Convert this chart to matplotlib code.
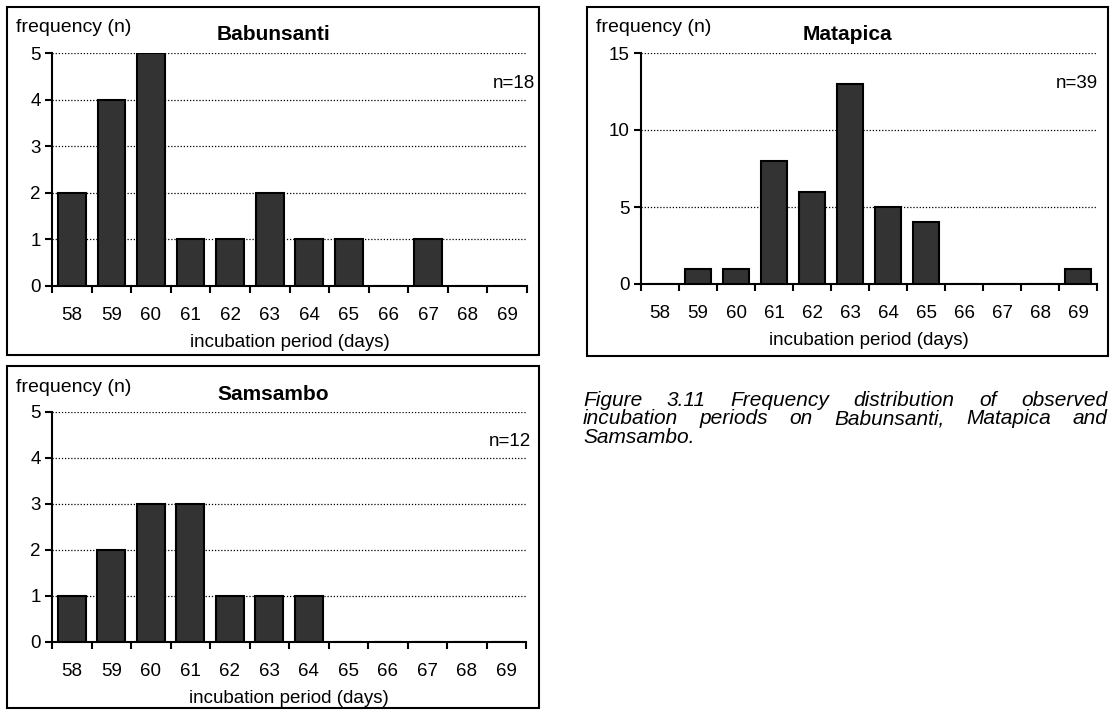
import matplotlib
matplotlib.use("Agg")
import matplotlib.pyplot as plt
import matplotlib.patches as mpatches
import numpy as np

plt.rcParams['font.family'] = ['Liberation Sans', 'DejaVu Sans']

# incubation period (days) and observed frequencies per site
days = [58, 59, 60, 61, 62, 63, 64, 65, 66, 67, 68, 69]
babunsanti = [2, 4, 5, 1, 1, 2, 1, 1, 0, 1, 0, 0]
matapica = [0, 1, 1, 8, 6, 13, 5, 4, 0, 0, 0, 1]
samsambo = [1, 2, 3, 3, 1, 1, 1, 0, 0, 0, 0, 0]
caption_lines = ["Figure 3.11 Frequency distribution of observed",
                 "incubation periods on Babunsanti, Matapica and",
                 "Samsambo."]

W, H = 1112, 710
fig = plt.figure(figsize=(W / 100, H / 100), dpi=100)
FS = 13.5


def px_rect(x0, y0, x1, y1):
    # pixel box (top-left origin) -> figure fraction rect
    return [x0 / W, 1 - y1 / H, (x1 - x0) / W, (y1 - y0) / H]


def panel(box, axbox, counts, title, ymax, ystep, ntext, nx):
    # frame round the panel
    bx0, by0, bx1, by1 = box
    fig.patches.append(mpatches.Rectangle((bx0 / W, 1 - by1 / H), (bx1 - bx0) / W, (by1 - by0) / H,
                                          transform=fig.transFigure, fill=False,
                                          edgecolor='black', linewidth=1.5))
    ax = fig.add_axes(px_rect(*axbox))
    ax.bar(days, counts, width=0.7, color='#333333', edgecolor='black', linewidth=1.5, zorder=3)
    ax.set_xlim(days[0] - 0.5, days[-1] + 0.5)
    ax.set_ylim(0, ymax)
    ax.set_yticks(np.arange(0, ymax + 1, ystep))
    for v in np.arange(ystep, ymax + 1, ystep):
        ax.axhline(v, color='black', linestyle=(0, (1, 1.5)), linewidth=0.9, zorder=1)
    ax.set_xticks(np.arange(days[0] - 0.5, days[-1] + 1, 1))
    ax.set_xticklabels([])
    ax.set_xticks(days, minor=True)
    ax.set_xticklabels([str(d) for d in days], minor=True, fontsize=FS)
    ax.tick_params(axis='x', which='major', direction='out', length=5, width=1.5)
    ax.tick_params(axis='x', which='minor', length=0, pad=15)
    ax.tick_params(axis='y', direction='out', length=5, width=1.5, labelsize=FS, pad=3)
    for s in ['top', 'right']:
        ax.spines[s].set_visible(False)
    for s in ['left', 'bottom']:
        ax.spines[s].set_linewidth(1.5)
    ax.set_xlabel('incubation period (days)', fontsize=FS, labelpad=7)
    # corner texts
    fig.text((bx0 + 9) / W, 1 - (by0 + 21) / H, 'frequency (n)', fontsize=14, va='center', ha='left')
    fig.text((bx0 + bx1) / 2 / W, 1 - (by0 + 28) / H, title, fontsize=15, fontweight='bold',
             va='center', ha='center')
    fig.text(nx / W, 1 - (axbox[3] - 0.87 * (axbox[3] - axbox[1])) / H, ntext, fontsize=FS,
             va='center', ha='right')
    return ax


panel((7, 7, 539, 355), (52, 53, 527, 286), babunsanti, 'Babunsanti', 5, 1, 'n=18', 535)
panel((587, 7, 1108, 356), (641, 53, 1097, 284), matapica, 'Matapica', 15, 5, 'n=39', 1098)
panel((7, 366, 539, 708), (52, 412, 526, 642), samsambo, 'Samsambo', 5, 1, 'n=12', 531)

# justified italic caption
CFS = 15
renderer = fig.canvas.get_renderer()
cx0, cx1 = 583, 1107
cys = [400, 419, 438]
for i, line in enumerate(caption_lines):
    words = line.split()
    texts = [fig.text(0, 1 - cys[i] / H, w, fontsize=CFS, style='italic', va='center', ha='left')
             for w in words]
    widths = [t.get_window_extent(renderer).width for t in texts]
    if i < len(caption_lines) - 1 and len(words) > 1:
        gap = (cx1 - cx0 - sum(widths)) / (len(words) - 1)
    else:
        gap = renderer.points_to_pixels(CFS) * 0.28
    x = cx0
    for t, wd in zip(texts, widths):
        t.set_x(x / W)
        x += wd + gap

fig.savefig('out.png', dpi=100)
